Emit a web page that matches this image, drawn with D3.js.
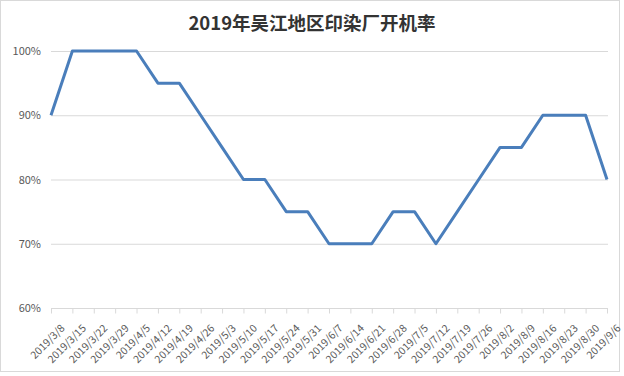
<!DOCTYPE html>
<html>
<head>
<meta charset="utf-8">
<script src="https://cdn.jsdelivr.net/npm/d3@7"></script>
<style>
    body { margin: 0; background: #fff; }
    svg text { font-family: "Noto Sans CJK SC", "Liberation Sans", sans-serif; }
</style>
</head>
<body>
<svg class="chart1"></svg>
<script>
// weekly dates and operating rates (%)
var dates = ['2019/3/8', '2019/3/15', '2019/3/22', '2019/3/29', '2019/4/5', '2019/4/12', '2019/4/19',
    '2019/4/26', '2019/5/3', '2019/5/10', '2019/5/17', '2019/5/24', '2019/5/31', '2019/6/7',
    '2019/6/14', '2019/6/21', '2019/6/28', '2019/7/5', '2019/7/12', '2019/7/19', '2019/7/26',
    '2019/8/2', '2019/8/9', '2019/8/16', '2019/8/23', '2019/8/30', '2019/9/6'];
var rates = [90, 100, 100, 100, 100, 95, 95, 90, 85, 80, 80, 75, 75, 70, 70, 70, 75, 75, 70, 75, 80,
    85, 85, 90, 90, 90, 80];
var yTicks = [60, 70, 80, 90, 100];
var graphHeader = '2019年吴江地区印染厂开机率';

var totalWidth = 624, totalHeight = 376;
var margin = { top: 51, right: 16, bottom: 68, left: 51 },
    width = totalWidth - margin.left - margin.right,
    height = totalHeight - margin.top - margin.bottom;

var svg = d3.select('.chart1')
    .attr('width', totalWidth)
    .attr('height', totalHeight);

// outer frame
svg.append('rect')
    .attr('x', 0.5).attr('y', 0.5)
    .attr('width', 619).attr('height', 371)
    .attr('fill', '#fff')
    .attr('stroke', '#d9d9d9');

var chart = svg.append('g')
    .attr('transform', 'translate(' + margin.left + ',' + margin.top + ')');

var x = d3.scalePoint()
    .domain(dates)
    .range([0, width - 1]);

var y = d3.scaleLinear()
    .domain([60, 100])
    .range([height, 0]);

// gridlines
chart.append('g')
    .selectAll('line')
    .data(yTicks.slice(1))
    .enter()
    .append('line')
    .attr('x1', 0)
    .attr('x2', width)
    .attr('y1', d => y(d) + 0.5)
    .attr('y2', d => y(d) + 0.5)
    .attr('stroke', '#d9d9d9');

// y axis labels
var yAxis = d3.axisLeft(y)
    .tickValues(yTicks)
    .tickSize(0)
    .tickPadding(10)
    .tickFormat(d => d + '%');

chart.append('g')
    .attr('class', 'y axis')
    .call(yAxis)
    .call(g => g.select('.domain').remove())
    .selectAll('text')
    .attr('fill', '#595959')
    .attr('font-size', '11px');

// x axis
var xAxis = d3.axisBottom(x)
    .tickSize(5)
    .tickPadding(4);

var xg = chart.append('g')
    .attr('class', 'x axis')
    .attr('transform', 'translate(0,' + height + ')')
    .call(xAxis);

xg.select('.domain')
    .attr('d', 'M0,0.5H' + width)
    .attr('stroke', '#d9d9d9');
xg.selectAll('.tick line')
    .attr('stroke', '#d9d9d9')
    .attr('transform', 'translate(0,0.5)');

// angle the axis text
xg.selectAll('text')
    .attr('fill', '#595959')
    .attr('font-size', '10.5px')
    .attr('text-anchor', 'end')
    .attr('dy', '0.35em')
    .attr('transform', 'translate(5,12) rotate(-45)');

// draw line
var valueline = d3.line()
    .x((d, i) => x(dates[i]))
    .y(d => y(d));

chart.append('path')
    .datum(rates)
    .attr('d', valueline)
    .attr('fill', 'none')
    .attr('stroke', '#4a7ebb')
    .attr('stroke-width', 3)
    .attr('stroke-linejoin', 'round');

// add title
svg.append('text')
    .attr('x', totalWidth / 2)
    .attr('y', 30)
    .attr('text-anchor', 'middle')
    .attr('font-size', '18.5px')
    .attr('font-weight', 'bold')
    .attr('fill', '#333')
    .text(graphHeader);
</script>
</body>
</html>
